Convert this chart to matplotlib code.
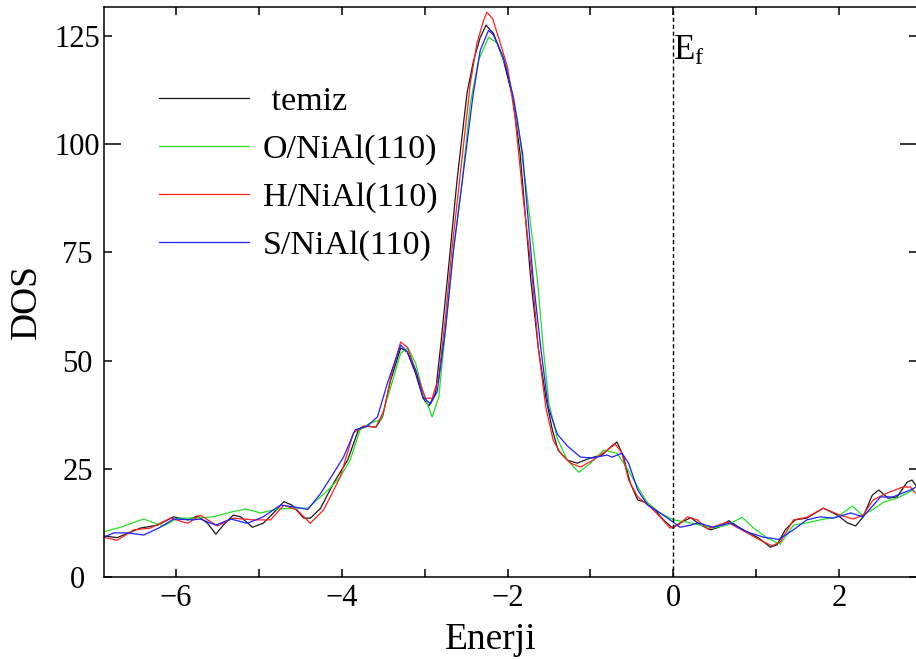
import numpy as np
import matplotlib
matplotlib.use('Agg')
import matplotlib.pyplot as plt
from matplotlib.ticker import MultipleLocator, FixedLocator
from matplotlib.transforms import ScaledTranslation

plt.rcParams['font.family'] = ['Liberation Serif', 'DejaVu Serif']
plt.rcParams['mathtext.fontset'] = 'custom'
plt.rcParams['mathtext.rm'] = 'Liberation Serif'
plt.rcParams['mathtext.it'] = 'Liberation Serif:italic'

# temiz (clean surface)
e_temiz = [-6.88, -6.71, -6.43, -6.22, -6.03, -5.86, -5.74, -5.62, -5.52, -5.43, -5.31, -5.22,
           -5.08, -4.95, -4.83, -4.70, -4.60, -4.46, -4.38, -4.26, -4.10, -3.93, -3.80, -3.69,
           -3.59, -3.51, -3.41, -3.29, -3.21, -3.11, -3.02, -2.95, -2.87, -2.81, -2.71, -2.61,
           -2.49, -2.41, -2.33, -2.26, -2.17, -2.05, -1.94, -1.85, -1.72, -1.63, -1.54, -1.46,
           -1.39, -1.28, -1.16, -1.00, -0.86, -0.76, -0.68, -0.60, -0.52, -0.43, -0.31, -0.24,
           -0.12, -0.01, 0.08, 0.21, 0.33, 0.45, 0.55, 0.67, 0.79, 0.89, 1.03, 1.17, 1.25, 1.35,
           1.47, 1.61, 1.81, 1.98, 2.10, 2.20, 2.29, 2.40, 2.48, 2.59, 2.70, 2.82, 2.88, 2.95]
dos_temiz = [9.5, 9.1, 11.3, 12.0, 13.9, 13.2, 14.1, 12.4, 9.9, 12.0, 14.3, 13.9,
             11.5, 12.4, 14.7, 17.4, 16.6, 13.6, 13.6, 15.8, 21.7, 27.0, 34.0, 34.9,
             34.6, 37.0, 45.5, 52.9, 52.0, 47.0, 41.3, 39.5, 42.5, 53.0, 72.0, 91.7,
             111.8, 119.4, 124.7, 127.5, 125.6, 119.4, 110.9, 98.0, 68.6, 53.0, 41.6, 34.0,
             29.3, 27.0, 26.3, 27.5, 28.2, 30.0, 31.2, 27.7, 21.7, 17.8, 17.1, 15.9,
             13.2, 11.3, 12.5, 13.7, 12.0, 10.9, 11.5, 13.0, 11.5, 10.4, 9.0, 6.9, 7.4, 10.9,
             13.2, 13.6, 15.9, 14.3, 12.5, 11.8, 13.9, 18.9, 20.1, 18.2, 18.5, 21.9, 22.4, 20.5]

# O/NiAl(110)
e_o = [-6.88, -6.67, -6.39, -6.27, -6.15, -5.98, -5.79, -5.55, -5.34, -5.16, -4.98, -4.78,
       -4.58, -4.41, -4.29, -4.17, -4.02, -3.90, -3.78, -3.66, -3.53, -3.41, -3.29, -3.20,
       -3.11, -3.02, -2.91, -2.83, -2.73, -2.65, -2.55, -2.45, -2.35, -2.23, -2.12, -2.00,
       -1.88, -1.77, -1.64, -1.57, -1.50, -1.40, -1.28, -1.14, -1.00, -0.84, -0.68, -0.56,
       -0.43, -0.31, -0.16, 0.00, 0.21, 0.48, 0.65, 0.83, 0.97, 1.13, 1.29, 1.45, 1.61,
       1.77, 1.98, 2.16, 2.28, 2.40, 2.54, 2.70, 2.90]
dos_o = [10.4, 11.5, 13.4, 12.5, 11.8, 13.6, 13.6, 13.9, 15.0, 15.7, 14.8, 15.7,
         15.9, 15.9, 18.0, 20.0, 23.1, 27.0, 34.0, 35.6, 36.3, 43.9, 51.7, 52.9,
         49.4, 42.7, 37.0, 41.6, 61.0, 76.0, 91.0, 109.5, 119.4, 124.7, 123.3, 117.0,
         105.5, 89.0, 68.6, 53.0, 40.0, 32.0, 27.0, 24.2, 26.3, 29.3, 28.6, 25.2,
         20.8, 17.1, 14.8, 13.2, 12.5, 11.3, 12.0, 13.8, 11.3, 9.0, 7.6, 12.0, 12.5,
         13.2, 13.9, 16.4, 14.3, 15.5, 17.3, 18.2, 20.1]

# H/NiAl(110)
e_h = [-6.88, -6.71, -6.51, -6.31, -6.07, -5.86, -5.71, -5.50, -5.31, -5.07, -4.86, -4.70,
       -4.54, -4.38, -4.22, -4.14, -4.02, -3.86, -3.74, -3.59, -3.49, -3.39, -3.29, -3.21,
       -3.11, -2.99, -2.91, -2.83, -2.75, -2.67, -2.58, -2.45, -2.37, -2.29, -2.25, -2.18,
       -2.11, -2.00, -1.91, -1.82, -1.70, -1.63, -1.54, -1.45, -1.36, -1.24, -1.12, -0.97,
       -0.80, -0.70, -0.62, -0.54, -0.43, -0.28, -0.16, -0.04, 0.06, 0.17, 0.29, 0.41,
       0.65, 0.89, 1.05, 1.19, 1.29, 1.45, 1.61, 1.81, 2.01, 2.17, 2.29, 2.41, 2.58,
       2.77, 2.86, 2.92]
dos_h = [9.2, 8.5, 10.9, 11.3, 13.6, 12.4, 14.3, 11.8, 13.6, 13.2, 13.2, 16.6,
         15.5, 12.4, 15.5, 18.5, 23.1, 33.3, 34.9, 34.6, 38.6, 47.8, 54.3, 53.1,
         47.8, 41.3, 41.3, 46.2, 60.0, 76.0, 91.5, 114.0, 123.3, 128.6, 130.5, 129.0,
         124.7, 117.8, 106.2, 89.0, 68.6, 53.0, 39.3, 31.6, 28.6, 26.3, 25.4, 27.0,
         29.3, 30.7, 28.6, 22.4, 18.5, 16.2, 13.9, 11.3, 12.0, 13.9, 13.2, 11.1,
         12.7, 10.2, 8.5, 7.2, 8.1, 13.2, 13.8, 15.9, 14.3, 13.4, 14.3, 17.8, 19.4,
         20.8, 20.8, 19.4]

# S/NiAl(110)
e_s = [-6.89, -6.75, -6.59, -6.39, -6.19, -6.03, -5.79, -5.71, -5.52, -5.34, -5.14, -4.95,
       -4.74, -4.58, -4.41, -4.26, -4.10, -3.98, -3.84, -3.69, -3.57, -3.45, -3.29, -3.21,
       -3.11, -3.02, -2.93, -2.85, -2.75, -2.65, -2.55, -2.42, -2.33, -2.23, -2.17, -2.05,
       -1.93, -1.82, -1.69, -1.60, -1.51, -1.40, -1.28, -1.12, -0.97, -0.80, -0.74, -0.62,
       -0.54, -0.43, -0.31, -0.16, -0.04, 0.08, 0.21, 0.30, 0.48, 0.69, 0.89, 1.09, 1.27,
       1.45, 1.61, 1.77, 1.93, 2.14, 2.29, 2.50, 2.65, 2.86, 2.95]
dos_s = [9.0, 10.2, 10.2, 9.7, 11.5, 13.4, 13.2, 13.4, 12.0, 13.4, 12.4, 13.9,
         16.6, 16.2, 15.6, 19.2, 24.0, 27.7, 34.0, 34.9, 37.0, 44.8, 53.6, 52.0,
         47.8, 41.6, 40.0, 42.8, 57.0, 76.0, 91.0, 110.9, 121.7, 126.3, 125.2, 120.0,
         110.9, 97.9, 68.6, 53.0, 39.3, 33.0, 30.3, 27.7, 27.5, 28.2, 27.7, 28.6,
         26.3, 20.1, 16.6, 14.8, 13.2, 11.5, 12.0, 12.5, 11.5, 12.5, 10.4, 9.2, 8.7,
         10.9, 13.2, 13.9, 13.6, 14.8, 13.9, 18.5, 18.5, 20.1, 21.0]

y_ticks = [0, 25, 50, 75, 100, 125]
x_ticks = [-6, -4, -2, 0, 2]

fig = plt.figure(figsize=(9.16, 6.6), dpi=100)
ax = fig.add_axes([104 / 916, 83 / 660, 813 / 916, 570 / 660])

ax.plot(e_temiz, dos_temiz, color='#1a1a1a', lw=0.9, label=' temiz')
ax.plot(e_o, dos_o, color='#22e022', lw=0.9, label='O/NiAl(110)')
ax.plot(e_h, dos_h, color='#ff2020', lw=0.9, label='H/NiAl(110)')
ax.plot(e_s, dos_s, color='#2020ff', lw=0.9, label='S/NiAl(110)')

# fermi level
ax.axvline(0, color='black', lw=1.0, ls=(0, (3, 2)))
ax.text(0.0, 119.5, r'E$_\mathrm{f}$', fontsize=25, ha='left', va='baseline')

ax.set_xlim(-6.87, 2.94)
ax.set_ylim(0, 131.7)

ax.xaxis.set_major_locator(FixedLocator(x_ticks))
ax.xaxis.set_minor_locator(MultipleLocator(1))
ax.yaxis.set_major_locator(FixedLocator(y_ticks))
ax.tick_params(which='both', direction='in', top=True, right=True,
               length=6, width=1.1, labelsize=22)
ax.tick_params(axis='x', pad=5)
ax.tick_params(axis='y', pad=19)
for lab in ax.get_yticklabels():
    lab.set_horizontalalignment('center')

# two longer ticks, as in the original
for t in ax.xaxis.get_major_ticks():
    if t.get_loc() == -2:
        t.tick1line.set_markersize(12)
        t.tick2line.set_markersize(12)
    if t.get_loc() < 0:
        # center the digit on the tick, minus sign sticks out
        t.label1.set_transform(t.label1.get_transform() +
                               ScaledTranslation(0.08, 0, fig.dpi_scale_trans))
for t in ax.yaxis.get_major_ticks():
    if t.get_loc() == 100:
        t.tick1line.set_markersize(12)
        t.tick2line.set_markersize(12)

for sp in ax.spines.values():
    sp.set_linewidth(1.1)

ax.set_xlabel('Enerji', fontsize=27)
ax.set_ylabel('DOS', fontsize=27)
ax.xaxis.set_label_coords(0.476, -0.08)
ax.yaxis.set_label_coords(-0.074, 0.484)

leg = ax.legend(loc='upper left', bbox_to_anchor=(0.03, 0.915), frameon=False,
                fontsize=24.5, handlelength=2.65, handletextpad=0.4, labelspacing=0.5)

fig.savefig('out.png', dpi=100)
